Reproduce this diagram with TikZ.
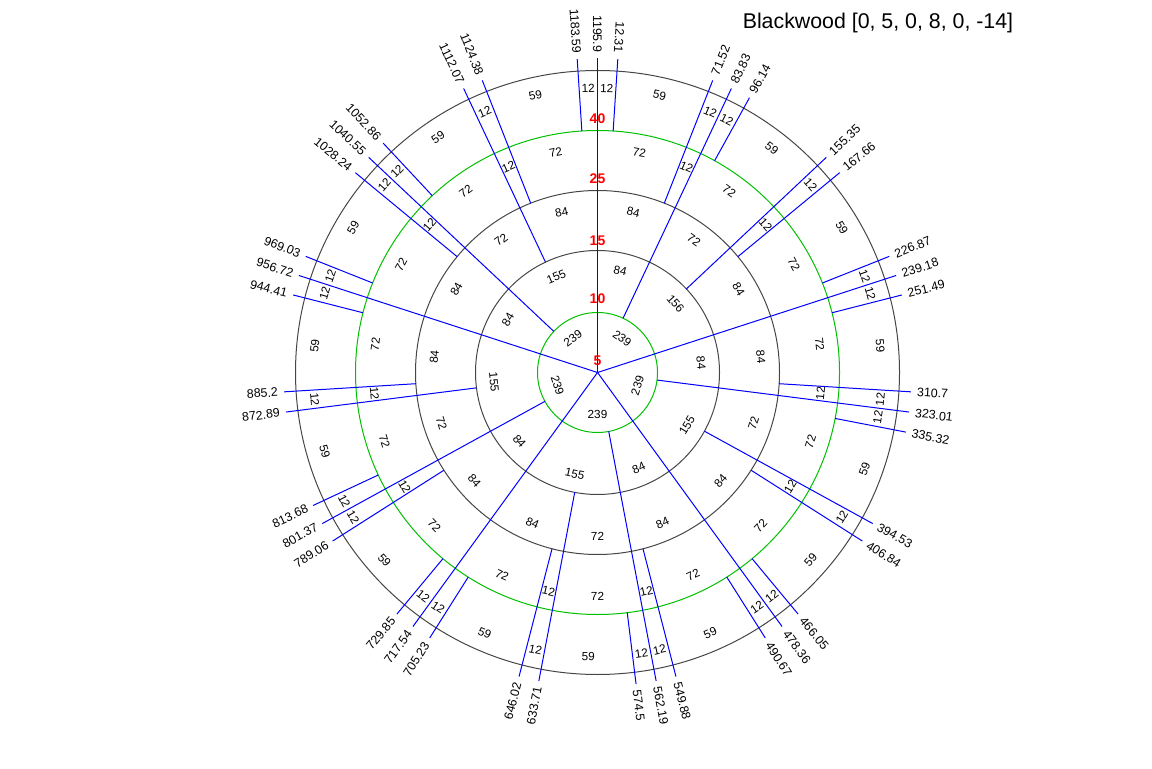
\documentclass[tikz,border=0pt]{standalone}
\usepackage{fontspec}
\setmainfont{Liberation Sans}
\definecolor{ggreen}{RGB}{0,192,0}
\definecolor{kgray}{RGB}{70,70,70}
\begin{document}
\begin{tikzpicture}[x=0.75pt,y=0.75pt,
  ring/.style={line width=0.75pt},
  gring/.style={ring, draw=ggreen},
  kring/.style={ring, draw=kgray},
  tone/.style={draw=blue, line width=0.75pt},
  seglab/.style={font=\fontsize{8.8}{10}\selectfont, inner sep=0pt},
  tiplab/.style={font=\fontsize{9.3}{11}\selectfont, inner sep=0pt},
  radlab/.style={font=\fontsize{10.5}{12}\selectfont\bfseries, text=red, inner sep=0pt},
  titlelab/.style={font=\fontsize{16}{19}\selectfont, inner sep=0pt}
]
\useasboundingbox (0,0) rectangle (1152,768);
\coordinate (C) at (597.5,395.5);
\node[titlelab, anchor=base west] (title) at (742.5,739.7) {Blackwood [0, 5, 0, 8, 0, -14]};
\begin{scope}[shift={(C)}]
  % ring boundaries
  \draw[gring] (0,0) circle[radius=60];
  \draw[kring] (0,0) circle[radius=122];
  \draw[kring] (0,0) circle[radius=182];
  \draw[gring] (0,0) circle[radius=242];
  \draw[kring] (0,0) circle[radius=302];
  % tone lines with labels
  \foreach \p/\rs/\lab [count=\i] in {
    0/0/1195.9, 12.31/242/12.31, 71.52/182/71.52, 83.83/60/83.83, 96.14/242/96.14,
    155.35/122/155.35, 167.66/182/167.66, 226.87/242/226.87,
    239.18/0/239.18, 251.49/242/251.49, 310.7/182/310.7, 323.01/60/323.01, 335.32/242/335.32,
    394.53/122/394.53, 406.84/182/406.84, 466.05/242/466.05,
    478.36/0/478.36, 490.67/242/490.67, 549.88/182/549.88, 562.19/60/562.19, 574.5/242/574.5,
    633.71/122/633.71, 646.02/182/646.02, 705.23/242/705.23,
    717.54/0/717.54, 729.85/242/729.85, 789.06/182/789.06, 801.37/60/801.37, 813.68/242/813.68,
    872.89/122/872.89, 885.2/182/885.2, 944.41/242/944.41,
    956.72/0/956.72, 969.03/242/969.03, 1028.24/182/1028.24, 1040.55/60/1040.55, 1052.86/242/1052.86,
    1112.07/122/1112.07, 1124.38/182/1124.38, 1183.59/242/1183.59}{
    \pgfmathsetmacro\ph{90-\p/1195.9*360}
    \pgfmathsetmacro\phn{\ph < -180 ? \ph+360 : \ph}
    \pgfmathtruncatemacro\outw{((\phn > -90) && (\phn < 80)) ? 1 : 0}
    \coordinate (s\i) at (\phn:\rs);
    \coordinate (e\i) at (\phn:314);
    \draw[tone] (s\i) -- (e\i);
    \ifnum\outw=1
      \node[tiplab, anchor=west, rotate=\phn] (tip\i) at (\phn:320) {\lab};
    \else
      \node[tiplab, anchor=east, rotate=\phn+180] (tip\i) at (\phn:320) {\lab};
    \fi
  }
  % segment labels
  \foreach \k in {0,...,4}{
    \pgfmathtruncatemacro\isfirst{\k==0 ? 1 : 0}
    \ifnum\isfirst=1 \def\bigseg{156}\else\def\bigseg{155}\fi
    \foreach \m/\r/\lab [count=\j] in {
      119.59/42/239,
      41.915/104/84, 161.505/104/\bigseg,
      41.915/164/84, 119.59/164/72, 197.265/164/84,
      35.76/224/72, 77.675/224/12, 119.59/224/72, 161.505/224/12, 203.42/224/72,
      6.155/284/12, 41.915/284/59, 77.675/284/12, 89.985/284/12, 125.745/284/59,
      161.505/284/12, 197.265/284/59, 233.025/284/12}{
      \pgfmathsetmacro\ph{90-(\k*239.18+\m)/1195.9*360}
      \pgfmathsetmacro\rot{sin(\ph) > 0 ? \ph-90 : \ph+90}
      \node[seglab, rotate=\rot] (seg\k-\j) at (\ph:\r) {\lab};
    }
  }
  % ring size labels
  \node[radlab] (n5) at (90:12) {5};
  \node[radlab] (n10) at (90:74) {10};
  \node[radlab] (n15) at (90:132) {15};
  \node[radlab] (n25) at (90:194) {25};
  \node[radlab] (n40) at (90:254) {40};
\end{scope}
\end{tikzpicture}
\end{document}
